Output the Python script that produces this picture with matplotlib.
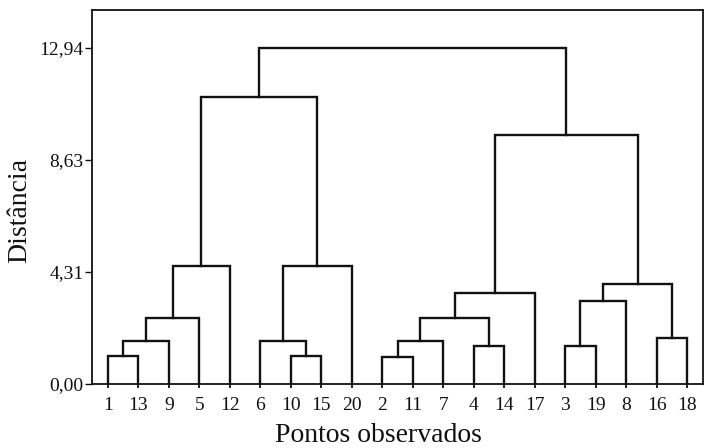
import matplotlib as mpl
mpl.use("Agg")
import matplotlib.pyplot as plt

mpl.rcParams['font.family'] = ['Liberation Serif', 'DejaVu Serif']

# observation numbers 1..20; each merge makes a new node numbered from 21 up
merge_a = [1, 21, 22, 23, 10, 6, 26, 24, 2, 29, 4, 30, 32, 3, 34, 16, 35, 33, 28]
merge_b = [13, 9, 5, 12, 15, 25, 20, 27, 11, 7, 14, 31, 17, 19, 8, 18, 36, 37, 38]
merge_h = [1.08, 1.64, 2.56, 4.55, 1.08, 1.64, 4.55, 11.05,
           1.05, 1.64, 1.47, 2.55, 3.51, 1.46, 3.20, 1.77, 3.85, 9.58, 12.94]
n_obs = 20

y_ticks = [0.0, 4.31, 8.63, 12.94]
y_ticklabels = ["0,00", "4,31", "8,63", "12,94"]

children = {}
height = {k: 0.0 for k in range(1, n_obs + 1)}
for i, (a, b, h) in enumerate(zip(merge_a, merge_b, merge_h)):
    node = n_obs + 1 + i
    children[node] = (a, b)
    height[node] = h
root = n_obs + len(merge_h)

# leaf order from a left-first walk of the tree
order = []
def walk(node):
    if node in children:
        walk(children[node][0])
        walk(children[node][1])
    else:
        order.append(node)
walk(root)

xpos = {leaf: i for i, leaf in enumerate(order)}
def place(node):
    if node in children:
        a, b = children[node]
        xpos[node] = (place(a) + place(b)) / 2.0
    return xpos[node]
place(root)

fig = plt.figure(figsize=(7.04, 4.48), dpi=100)
ax = fig.add_axes([92 / 704, 1 - 384 / 448, 611 / 704, 374 / 448])

for node, (a, b) in children.items():
    h = height[node]
    ax.plot([xpos[a], xpos[a], xpos[b], xpos[b]],
            [height[a], h, h, height[b]],
            color='#111111', lw=1.7, solid_joinstyle='miter')

ax.set_xlim(-0.52, n_obs - 0.48)
ax.set_ylim(0, 14.4)
ax.set_xticks(range(n_obs))
ax.set_xticklabels([str(k) for k in order], fontsize=14)
ax.set_yticks(y_ticks)
ax.set_yticklabels(y_ticklabels, fontsize=14)
ax.tick_params(axis='x', length=3, width=1.3, pad=6, colors='#111111')
ax.tick_params(axis='y', length=5, width=1.0, pad=1, colors='#111111')
for sp in ax.spines.values():
    sp.set_linewidth(1.3)
    sp.set_color('#111111')

fig.text(378 / 704, 0.5 / 448, "Pontos observados", fontsize=20,
         ha='center', va='bottom', color='#111111')
fig.text(7 / 704, 1 - 210 / 448, "Distância", fontsize=20, rotation=90,
         ha='left', va='center', color='#111111')

fig.savefig("out.png", dpi=100)
